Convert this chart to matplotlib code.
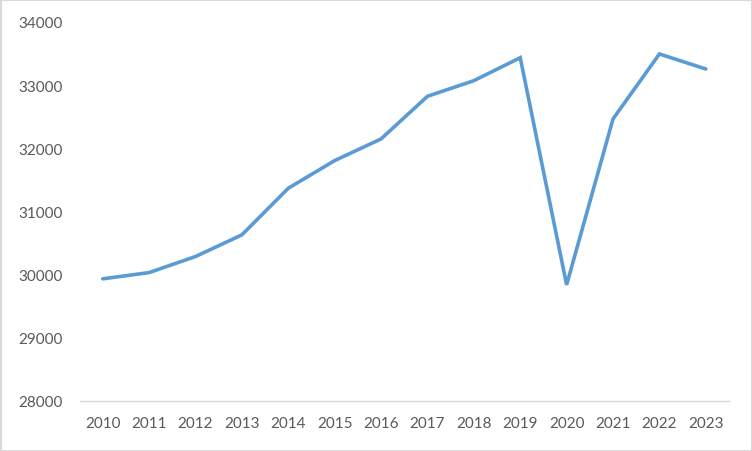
import matplotlib.pyplot as plt
from matplotlib.patches import Rectangle

years = [2010, 2011, 2012, 2013, 2014, 2015, 2016, 2017, 2018, 2019, 2020, 2021, 2022, 2023]
values = [29934, 30033, 30287, 30630, 31368, 31806, 32149, 32824, 33071, 33435, 29839, 32465, 33494, 33256]
yticks = [28000, 29000, 30000, 31000, 32000, 33000, 34000]

plt.rcParams['font.family'] = ['Lato', 'DejaVu Sans']

fig = plt.figure(figsize=(7.52, 4.52), dpi=100)
ax = fig.add_axes([79.5 / 752, 1 - 402 / 452, (729 - 79.5) / 752, (402 - 23) / 452])

xs = list(range(len(years)))
ax.plot(xs, values, color='#5B9BD5', linewidth=2.6, solid_capstyle='round', solid_joinstyle='miter')

ax.set_xlim(-0.5, len(years) - 0.5)
ax.set_ylim(28000, 34000)
ax.set_xticks(xs)
ax.set_xticklabels([str(y) for y in years])
ax.set_yticks(yticks)
ax.set_yticklabels([str(v) for v in yticks])

for s in ['top', 'right', 'left']:
    ax.spines[s].set_visible(False)
ax.spines['bottom'].set_color('#D9D9D9')
ax.spines['bottom'].set_linewidth(1)
ax.tick_params(axis='both', length=0, labelsize=11, labelcolor='#595959')
ax.tick_params(axis='y', pad=12)
ax.tick_params(axis='x', pad=11)

fig.patches.append(Rectangle((0.5 / 752, 0.5 / 452), 751 / 752, 451 / 452, transform=fig.transFigure,
                             fill=False, edgecolor='#D9D9D9', linewidth=1.5))

fig.savefig('out.png', dpi=100)
